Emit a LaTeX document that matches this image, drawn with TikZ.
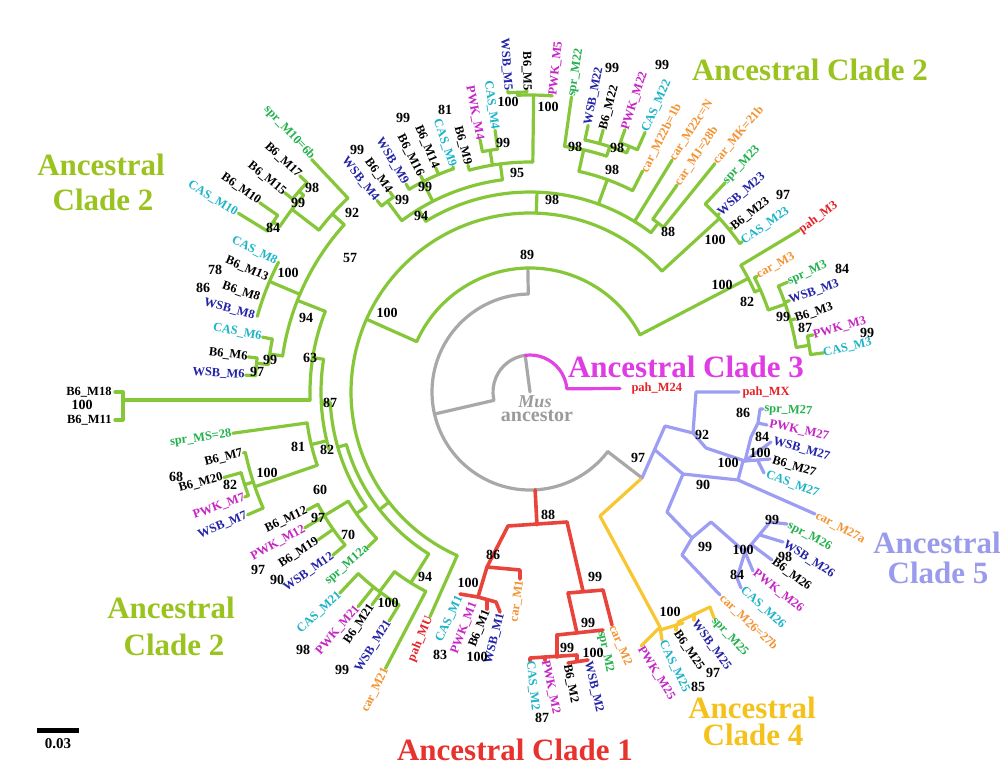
\documentclass[tikz,border=0pt]{standalone}
\usepackage{fontspec}
\setmainfont{Liberation Serif}
\definecolor{gl}{HTML}{86C73A}
\definecolor{gt}{HTML}{9BC31F}
\definecolor{cspr}{HTML}{22B14C}
\definecolor{cwsb}{HTML}{2323A8}
\definecolor{ccas}{HTML}{1EB4C8}
\definecolor{cpwk}{HTML}{C525C5}
\definecolor{ccar}{HTML}{F39433}
\definecolor{cpah}{HTML}{E52228}
\definecolor{lred}{HTML}{E9443B}
\definecolor{lyel}{HTML}{F8C630}
\definecolor{llav}{HTML}{9D9DF3}
\definecolor{lmag}{HTML}{E244E2}
\definecolor{lgry}{HTML}{A8A8A8}
\definecolor{tred}{HTML}{E8322E}
\definecolor{tmag}{HTML}{E03CE3}
\definecolor{tyel}{HTML}{F5C21B}
\definecolor{tlav}{HTML}{9B9BEE}
\definecolor{tgry}{HTML}{9B9B9B}
\newcounter{lbl}
\newcommand{\radl}[3]{\draw (#1:#2) -- (#1:#3);}
\newcommand{\arcq}[3]{\draw (#2:#1) arc[start angle=#2,end angle=#3,radius=#1];}
\newcommand{\tipE}[4]{\stepcounter{lbl}\node[tip,text=#1,anchor=east,rotate=#3] (t\thelbl) at (#2) {#4};}
\newcommand{\tipW}[4]{\stepcounter{lbl}\node[tip,text=#1,anchor=west,rotate=#3] (t\thelbl) at (#2) {#4};}
\newcommand{\bsv}[2]{\stepcounter{lbl}\node[bsn] (b\thelbl) at (#1) {#2};}
\begin{document}
\begin{tikzpicture}[x=1pt,y=-1pt,line cap=round,line join=round,
  tip/.style={font=\bfseries\fontsize{12.5}{13}\selectfont,inner sep=0.3pt},
  bsn/.style={font=\bfseries\fontsize{14}{14}\selectfont,inner sep=0pt,text=black},
  cl/.style={font=\bfseries\fontsize{31}{31}\selectfont,anchor=base,inner sep=0pt},
  lw/.style={line width=3.2pt},
  lwr/.style={line width=3.6pt}]
\fill[white] (0,0) rectangle (1003,766);
\useasboundingbox (0,0) rectangle (1003,766);

% ---------- grey root ----------
\begin{scope}[shift={(530,392)},y=1pt,lgry,lw]
\draw (0,0) -- (97.5:37);
\arcq{37}{97.5}{192}
\radl{193}{37}{98}
\arcq{98}{91}{322.5}
\radl{91}{98}{124}
\radl{322.5}{98}{141}
\end{scope}
% magenta
\begin{scope}[shift={(530,392)},y=1pt,lmag,lw]
\draw (97.5:37) arc[start angle=97.5,end angle=5,radius=37] -- (90,3.5);
\end{scope}
% red trunk
\begin{scope}[shift={(530,392)},y=1pt,lred,lwr]
\radl{273}{98}{133}
\end{scope}

% ---------- green clade 2 ----------
\begin{scope}[shift={(530,392)},y=1pt,gl,lw]
\arcq{124}{27.5}{156}
\radl{27.5}{124}{246}
\radl{156}{124}{179}
% car_M3 group
\arcq{246}{24}{31}
\radl{31}{246}{314}
\radl{24}{246}{252}
\arcq{252}{19}{27}
\radl{27}{252}{255}
\radl{19}{252}{270}
\arcq{270}{9.5}{23.1}
\radl{23.1}{270}{280}
\radl{19.4}{270}{275}
\radl{15.4}{270}{275}
\radl{9.5}{270}{283}
\arcq{283}{7.6}{11.4}
\radl{11.4}{283}{289}
\radl{7.6}{283}{296}
% big node 100
\arcq{179}{42.5}{246}
\radl{42.5}{179}{257}
\arcq{257}{35.3}{47}
\radl{47}{257}{286}
\radl{43.3}{257}{260}
\radl{39.1}{257}{260}
\radl{35.3}{257}{260}
% node 98 top
\radl{88}{179}{200}
\arcq{200}{52.8}{121.4}
\radl{52.8}{200}{212}
\arcq{212}{51}{54.6}
\radl{54.6}{212}{254}
\radl{51}{212}{294}
\radl{58.5}{200}{272}
\radl{70}{200}{226}
\arcq{226}{63}{77.5}
\radl{63}{226}{248}
\radl{77.5}{226}{248}
\arcq{248}{72}{82}
\radl{82}{248}{298}
\radl{72}{248}{258}
\arcq{258}{68}{77.7}
\radl{77.7}{258}{273}
\radl{74.4}{258}{272}
\radl{68}{258}{265}
\arcq{265}{66.1}{70.1}
\radl{70.1}{265}{279}
\radl{66.1}{265}{284}
% node 94 top
\radl{121.4}{200}{214}
\arcq{214}{97.4}{126.8}
\radl{97.4}{214}{230}
\arcq{230}{89.3}{105.3}
\radl{105.3}{230}{235}
\radl{99.4}{230}{245}
\arcq{245}{97.6}{101.2}
\radl{101.2}{245}{257}
\radl{97.6}{245}{264}
\radl{89.3}{230}{297}
\arcq{297}{85.7}{92.4}
\radl{92.4}{297}{300}
\arcq{300}{90.6}{94.2}
\radl{94.2}{300}{302}
\radl{90.6}{300}{302}
\radl{117}{214}{236}
\arcq{236}{108.9}{120.8}
\radl{108.9}{236}{238}
\radl{112.8}{236}{243}
\radl{116.8}{236}{242}
\radl{120.8}{236}{242}
\radl{126.8}{214}{238}
\arcq{238}{125}{128.6}
\radl{125}{238}{244}
\radl{128.6}{238}{245}
% left ladder
\radl{218}{179}{191}
\arcq{191}{196}{238}
\radl{238}{191}{225}
\arcq{225}{233}{242.4}
\radl{242.4}{225}{312}
\radl{233}{225}{250}
\arcq{250}{226.6}{238.4}
\radl{226.6}{250}{277}
\radl{231.3}{250}{275}
\radl{233.4}{250}{265}
\radl{238.4}{250}{269}
\radl{246}{179}{246}
\radl{196}{191}{200}
\arcq{200}{183}{215}
\radl{215}{200}{212}
\arcq{212}{211}{223.7}
\radl{223.7}{212}{224}
\radl{211}{212}{240}
\arcq{240}{207.9}{219.6}
\radl{207.9}{240}{252}
\radl{211.1}{240}{263}
\radl{214.9}{240}{258}
\radl{219.6}{240}{256}
\radl{183}{200}{209}
\arcq{209}{171}{196}
\radl{193.5}{209}{225}
\arcq{225}{187.9}{199}
\radl{187.9}{225}{300}
\radl{199}{225}{291}
\arcq{291}{192}{203.5}
\radl{192}{291}{293}
\radl{198}{291}{300}
\arcq{300}{195.6}{200.2}
\radl{195.6}{300}{318}
\radl{200.2}{300}{304}
\radl{203.5}{291}{308}
\radl{171}{209}{220}
\arcq{220}{158.5}{182}
\radl{158.5}{220}{250}
\arcq{250}{138}{171.7}
\radl{138}{250}{266}
\arcq{266}{133.2}{142.5}
\radl{133.2}{266}{319}
\radl{142.5}{266}{300}
\arcq{300}{139}{146.5}
\radl{139}{300}{306}
\arcq{306}{136.8}{140.9}
\radl{136.8}{306}{316}
\radl{140.9}{306}{316}
\radl{146.5}{300}{308}
\arcq{308}{145}{148.5}
\radl{145}{308}{330}
\radl{148.5}{308}{342}
\radl{157}{250}{283}
\arcq{283}{152.7}{164.5}
\radl{171.7}{250}{263}
\arcq{263}{168.4}{174}
\radl{168.4}{263}{273}
\radl{174}{263}{275}
\arcq{275}{172.9}{176.6}
\radl{172.9}{275}{284}
\radl{176.6}{275}{285}
\end{scope}
% B6_M18 / M11 branch
\draw[gl,lw] (310,400) -- (123,400);
\draw[gl,lw] (115,392) -- (123,392) -- (123,420) -- (115,420);

% ---------- red clade 1 ----------
\begin{scope}[lred,lwr]
\draw (508,526) -- (567,522);
\draw (508,526) -- (487,567);
\draw (487,567) -- (520,570) -- (520,579);
\draw (487,567) -- (478,597);
\draw (460,594) -- (478,597) -- (496,602) -- (500,612);
\draw (487,600) -- (487,609);
\draw (567,522) -- (583,591);
\draw (568,593) -- (603,590) -- (612,625);
\draw (568,593) -- (577,633);
\draw (557,635) -- (603,630);
\draw (557,635) -- (557,657);
\draw (530,661) -- (530,658) -- (577,655) -- (577,661);
\draw (568,663) -- (588,660);
\draw (545,657) -- (545,660);
\end{scope}

% ---------- yellow clade 4 ----------
\begin{scope}[lyel,lw]
\draw (642,478) -- (600,516) -- (660,627);
\draw (641,646) -- (660,627) -- (662,640);
\draw (660,630) -- (683,623);
\draw (678,622) -- (710,607) -- (714,618);
\draw (694,614) -- (694,620);
\draw (676,625) -- (676,630);
\end{scope}

% ---------- lavender clade 5 ----------
\begin{scope}[llav,lw]
\draw (642,478) -- (665,426) -- (693,433);
\draw (693,433) -- (696,392) -- (739,392);
\draw (693,433) -- (706,448) -- (745,461);
\draw (745,461) -- (751,437) -- (758,423) -- (760,409) -- (763,409);
\draw (758,423) -- (767,425);
\draw (745,461) -- (771,442);
\draw (745,461) -- (770,459);
\draw (758,461) -- (764,473);
\draw (743,461) -- (738,480) -- (815,514);
\draw (655,450) -- (683,474) -- (738,480);
\draw (683,474) -- (667,512) -- (692,538);
\draw (692,538) -- (711,522) -- (745,552);
\draw (692,538) -- (682,555) -- (720,595);
\draw (745,552) -- (770,522) -- (787,524);
\draw (760,535) -- (783,542);
\draw (752,545) -- (772,560);
\draw (745,552) -- (753,571);
\draw (745,552) -- (737,578) -- (741,588);
\end{scope}

% ---------- tip labels ----------
\tipE{cspr}{313,158}{-47}{spr\_M10=6b}
\tipE{black}{300,176}{-43}{B6\_M17}
\tipE{black}{285,193}{-39}{B6\_M15}
\tipE{black}{260,202}{-35}{B6\_M10}
\tipE{ccas}{237,213}{-31}{CAS\_M10}
\tipE{ccas}{277,262}{-27}{CAS\_M8}
\tipE{black}{268,278}{-23.5}{B6\_M13}
\tipE{black}{260,298}{-19}{B6\_M8}
\tipE{cwsb}{255,316}{-15}{WSB\_M8}
\tipE{ccas}{262,337}{-11.6}{CAS\_M6}
\tipE{black}{248,357}{-7}{B6\_M6}
\tipE{cwsb}{245,375}{-3.4}{WSB\_M6}
\tipE{black}{112,392}{0}{B6\_M18}
\tipE{black}{112,420}{0}{B6\_M11}
\tipE{cspr}{232,434}{8}{spr\_MS=28}
\tipE{black}{243,453}{14}{B6\_M7}
\tipE{black}{223,477}{15}{B6\_M20}
\tipE{cpwk}{245,497}{20}{PWK\_M7}
\tipE{cwsb}{247,515}{23}{WSB\_M7}
\tipE{black}{307,510}{25}{B6\_M12}
\tipE{cpwk}{305,528}{29}{PWK\_M12}
\tipE{black}{318,540}{33}{B6\_M19}
\tipE{cwsb}{333,555}{35}{WSB\_M12}
\tipE{cspr}{368,547}{41}{spr\_M12a}
\tipE{ccas}{340,593}{43}{CAS\_M21}
\tipE{cpwk}{358,607}{49}{PWK\_M21}
\tipE{black}{372,605}{56}{B6\_M21}
\tipE{cwsb}{389,621}{58}{WSB\_M21}
\tipE{ccar}{386,668}{64}{car\_M21}
\tipE{cpah}{430,617}{67}{pah\_MU}
\tipE{ccas}{460,596}{65}{CAS\_M1}
\tipE{cpwk}{474,602}{69}{PWK\_M1}
\tipE{black}{487,610}{68}{B6\_M1}
\tipE{cwsb}{501,613}{76}{WSB\_M1}
\tipE{ccar}{520,580}{82}{car\_M1}
\tipE{cwsb}{377,200}{-51.4}{WSB\_M4}
\tipE{black}{390,192}{-55}{B6\_M4}
\tipE{cwsb}{406,184}{-59}{WSB\_M9}
\tipE{black}{421,176}{-63}{B6\_M16}
\tipE{black}{436,168}{-67}{B6\_M14}
\tipE{ccas}{453,167}{-71}{CAS\_M9}
\tipE{black}{468,165}{-75}{B6\_M9}
\tipE{cpwk}{480,140}{-79}{PWK\_M4}
\tipE{ccas}{495,130}{-82}{CAS\_M4}
\tipE{cwsb}{508,91}{-86}{WSB\_M5}
\tipE{black}{527,91}{-89}{B6\_M5}
\tipW{cpwk}{553,96}{84}{PWK\_M5}
\tipW{cspr}{572,97}{81}{spr\_M22}
\tipW{cwsb}{588,125}{79}{WSB\_M22}
\tipW{black}{603,130}{75}{B6\_M22}
\tipW{cpwk}{625,130}{72}{PWK\_M22}
\tipW{ccas}{645,132}{66}{CAS\_M22}
\tipW{ccar}{644,172}{63}{car\_M22b=1b}
\tipW{ccar}{672,160}{57}{car\_M22c=N}
\tipW{ccar}{677,185}{56}{car\_MJ=28b}
\tipW{ccar}{715,163}{50}{car\_MK=21b}
\tipW{cspr}{725,183}{47}{spr\_M23}
\tipW{cwsb}{719,214}{41}{WSB\_M23}
\tipW{black}{732,228}{38}{B6\_M23}
\tipW{ccas}{742,242}{35}{CAS\_M23}
\tipW{cpah}{800,231}{36}{pah\_M3}
\tipW{ccar}{757,276}{29}{car\_M3}
\tipW{cspr}{788,282}{24}{spr\_M3}
\tipW{cwsb}{789,301}{20}{WSB\_M3}
\tipW{black}{795,319}{18}{B6\_M3}
\tipW{cpwk}{813,335}{15}{PWK\_M3}
\tipW{ccas}{823,353}{13}{CAS\_M3}
\tipW{cpah}{631,388}{0}{pah\_M24}
\tipW{cpah}{742,392}{0}{pah\_MX}
\tipW{cspr}{764,409}{-3}{spr\_M27}
\tipW{cpwk}{769,424}{-12}{PWK\_M27}
\tipW{cwsb}{773,441}{-16}{WSB\_M27}
\tipW{black}{772,460}{-17}{B6\_M27}
\tipW{ccas}{766,474}{-21}{CAS\_M27}
\tipW{ccar}{816,515}{-28}{car\_M27a}
\tipW{cspr}{788,525}{-28}{spr\_M26}
\tipW{cwsb}{784,543}{-33}{WSB\_M26}
\tipW{black}{773,561}{-36}{B6\_M26}
\tipW{cpwk}{754,572}{-38}{PWK\_M26}
\tipW{ccas}{742,589}{-42}{CAS\_M26}
\tipW{ccar}{721,597}{-43}{car\_M26=27b}
\tipW{cspr}{713,619}{-47}{spr\_M25}
\tipW{cwsb}{694,621}{-54}{WSB\_M25}
\tipW{black}{676,631}{-56}{B6\_M25}
\tipW{ccas}{662,641}{-64}{CAS\_M25}
\tipW{cpwk}{640,647}{-58}{PWK\_M25}
\tipW{ccar}{612,626}{-67}{car\_M2}
\tipW{cspr}{601,631}{-78}{spr\_M2}
\tipW{cwsb}{588,661}{-77}{WSB\_M2}
\tipW{black}{567,664}{-79}{B6\_M2}
\tipW{cpwk}{545,660}{-78}{PWK\_M2}
\tipW{ccas}{530,661}{-84}{CAS\_M2}

% ---------- bootstrap values ----------
\bsv{352,213}{92}\bsv{312,188}{98}\bsv{298,203}{99}\bsv{273,228}{84}
\bsv{350,258}{57}\bsv{288,273}{100}\bsv{215,270}{78}\bsv{203,288}{86}
\bsv{306,318}{94}\bsv{310,358}{63}\bsv{270,360}{99}\bsv{257,372}{97}
\bsv{387,313}{100}\bsv{82,405}{100}\bsv{330,403}{87}\bsv{298,447}{81}
\bsv{327,450}{82}\bsv{176,477}{68}\bsv{267,473}{100}\bsv{230,485}{82}
\bsv{320,490}{60}\bsv{318,518}{97}\bsv{348,535}{70}\bsv{258,570}{97}
\bsv{277,580}{90}\bsv{425,577}{94}\bsv{388,603}{100}\bsv{303,650}{98}
\bsv{342,670}{99}\bsv{440,655}{83}
\bsv{357,150}{99}\bsv{403,118}{99}\bsv{445,110}{81}\bsv{425,187}{99}
\bsv{402,200}{99}\bsv{421,216}{94}\bsv{503,143}{99}\bsv{508,102}{100}
\bsv{548,107}{100}\bsv{517,173}{95}\bsv{575,147}{98}\bsv{617,148}{98}
\bsv{612,68}{99}\bsv{662,65}{99}\bsv{612,170}{98}\bsv{552,200}{98}
\bsv{668,232}{88}\bsv{715,240}{100}\bsv{783,195}{97}\bsv{722,285}{100}
\bsv{747,302}{82}\bsv{842,269}{84}\bsv{783,317}{99}\bsv{805,328}{87}
\bsv{867,333}{99}\bsv{527,255}{89}
\bsv{548,515}{88}\bsv{493,555}{86}\bsv{468,583}{100}\bsv{477,657}{100}
\bsv{595,577}{99}\bsv{588,623}{99}\bsv{567,648}{99}\bsv{593,653}{100}
\bsv{542,718}{87}\bsv{638,458}{97}
\bsv{670,612}{100}\bsv{713,673}{97}\bsv{698,687}{85}
\bsv{702,435}{92}\bsv{743,413}{86}\bsv{762,437}{84}\bsv{760,453}{100}
\bsv{728,463}{100}\bsv{703,485}{90}\bsv{772,520}{99}\bsv{743,550}{100}
\bsv{785,557}{98}\bsv{737,575}{84}\bsv{705,547}{99}

% ---------- clade labels ----------
\node[cl,text=gt] (c2a) at (101,175) {Ancestral};
\node[cl,text=gt] (c2b) at (103,210) {Clade 2};
\node[cl,text=gt] (c2c) at (171,618) {Ancestral};
\node[cl,text=gt] (c2d) at (174,655) {Clade 2};
\node[cl,text=gt] (c2e) at (810,80) {Ancestral Clade 2};
\node[cl,text=tmag] (c3) at (686,377) {Ancestral Clade 3};
\node[cl,text=tred] (c1) at (515,760) {Ancestral Clade 1};
\node[cl,text=tyel] (c4a) at (752,718) {Ancestral};
\node[cl,text=tyel] (c4b) at (753,745) {Clade 4};
\node[cl,text=tlav] (c5a) at (937,553) {Ancestral};
\node[cl,text=tlav] (c5b) at (938,583) {Clade 5};
\node[anchor=base,inner sep=0pt,text=tgry,font=\bfseries\itshape\fontsize{18}{18}\selectfont] (mus) at (535,407) {Mus};
\node[anchor=base,inner sep=0pt,text=tgry,font=\bfseries\fontsize{20}{20}\selectfont] (anc) at (537,421) {ancestor};

% ---------- scale bar ----------
\coordinate (sb1) at (37,730);
\coordinate (sb2) at (79,730);
\draw[black,line width=5pt,line cap=butt] (sb1) -- (sb2);
\node[bsn,font=\bfseries\fontsize{15}{15}\selectfont] (sbl) at (58,744) {0.03};
\end{tikzpicture}
\end{document}
